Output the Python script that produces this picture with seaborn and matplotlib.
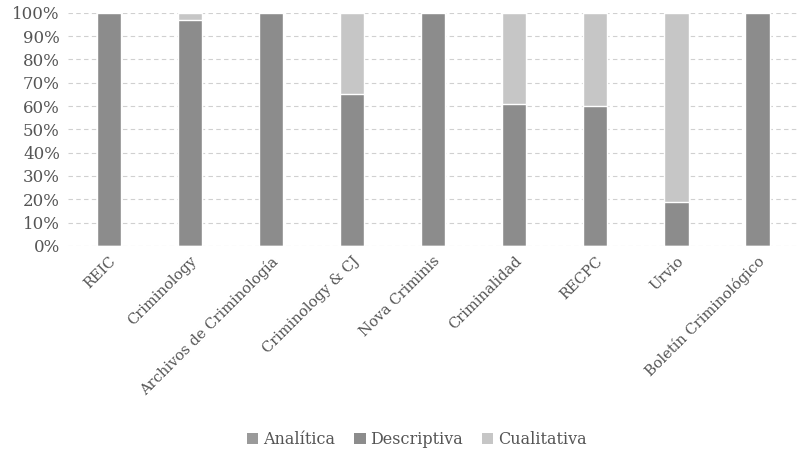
import numpy as np
import pandas as pd
import matplotlib
matplotlib.use("Agg")
import matplotlib.pyplot as plt
import seaborn as sns
from matplotlib.patches import Patch

# Datos: porcentaje de artículos por tipo de análisis
revistas = ["REIC", "Criminology", "Archivos de Criminología", "Criminology & CJ",
            "Nova Criminis", "Criminalidad", "RECPC", "Urvio", "Boletín Criminológico"]
analitica = [0, 0, 0, 0, 0, 0, 0, 0, 0]
descriptiva = [100, 97, 100, 65, 100, 61, 60, 19, 100]
cualitativa = [0, 3, 0, 35, 0, 39, 40, 81, 0]

colores = {"Analítica": "#9a9a9a", "Descriptiva": "#8c8c8c", "Cualitativa": "#c6c6c6"}

df = pd.DataFrame({"revista": revistas, "Analítica": analitica,
                   "Descriptiva": descriptiva, "Cualitativa": cualitativa})
df["total_desc"] = df["Analítica"] + df["Descriptiva"]
df["total"] = df["total_desc"] + df["Cualitativa"]

sns.set_style("white")
plt.rcParams["font.family"] = ["DejaVu Serif"]

fig, ax = plt.subplots(figsize=(8.02, 4.57), dpi=100)
fig.subplots_adjust(left=0.085, right=0.995, top=0.972, bottom=0.462)

# barras apiladas: se dibuja el acumulado de mayor a menor
sns.barplot(data=df, x="revista", y="total", color=colores["Cualitativa"],
            width=0.3, saturation=1, ax=ax, zorder=2)
sns.barplot(data=df, x="revista", y="total_desc", color=colores["Descriptiva"],
            width=0.3, saturation=1, ax=ax, zorder=3)
sns.barplot(data=df, x="revista", y="Analítica", color=colores["Analítica"],
            width=0.3, saturation=1, ax=ax, zorder=4)

ax.set_ylim(0, 100)
ax.set_xlim(-0.5, len(revistas) - 0.5)
ax.set_yticks(np.arange(0, 101, 10))
ax.set_yticklabels([f"{v}%" for v in range(0, 101, 10)], fontsize=12, color="#555555")
ax.set_xticks(range(len(revistas)))
ax.set_xticklabels(revistas, rotation=45, ha="right", rotation_mode="anchor",
                   fontsize=10.5, color="#555555")
ax.tick_params(axis="both", length=0, pad=6)
ax.set_xlabel("")
ax.set_ylabel("")
ax.yaxis.grid(True, color="#d0d0d0", linestyle=(0, (4, 3)), linewidth=0.8, zorder=0)
for s in ax.spines.values():
    s.set_visible(False)

handles = [Patch(facecolor=c, edgecolor="none", label=k) for k, c in colores.items()]
fig.legend(handles=handles, loc="lower center", ncol=3, frameon=False,
           bbox_to_anchor=(0.52, -0.012), fontsize=11.5, handlelength=0.7,
           handleheight=0.7, handletextpad=0.3, columnspacing=1.2,
           labelcolor="#555555")

fig.savefig("out.png", dpi=100)
